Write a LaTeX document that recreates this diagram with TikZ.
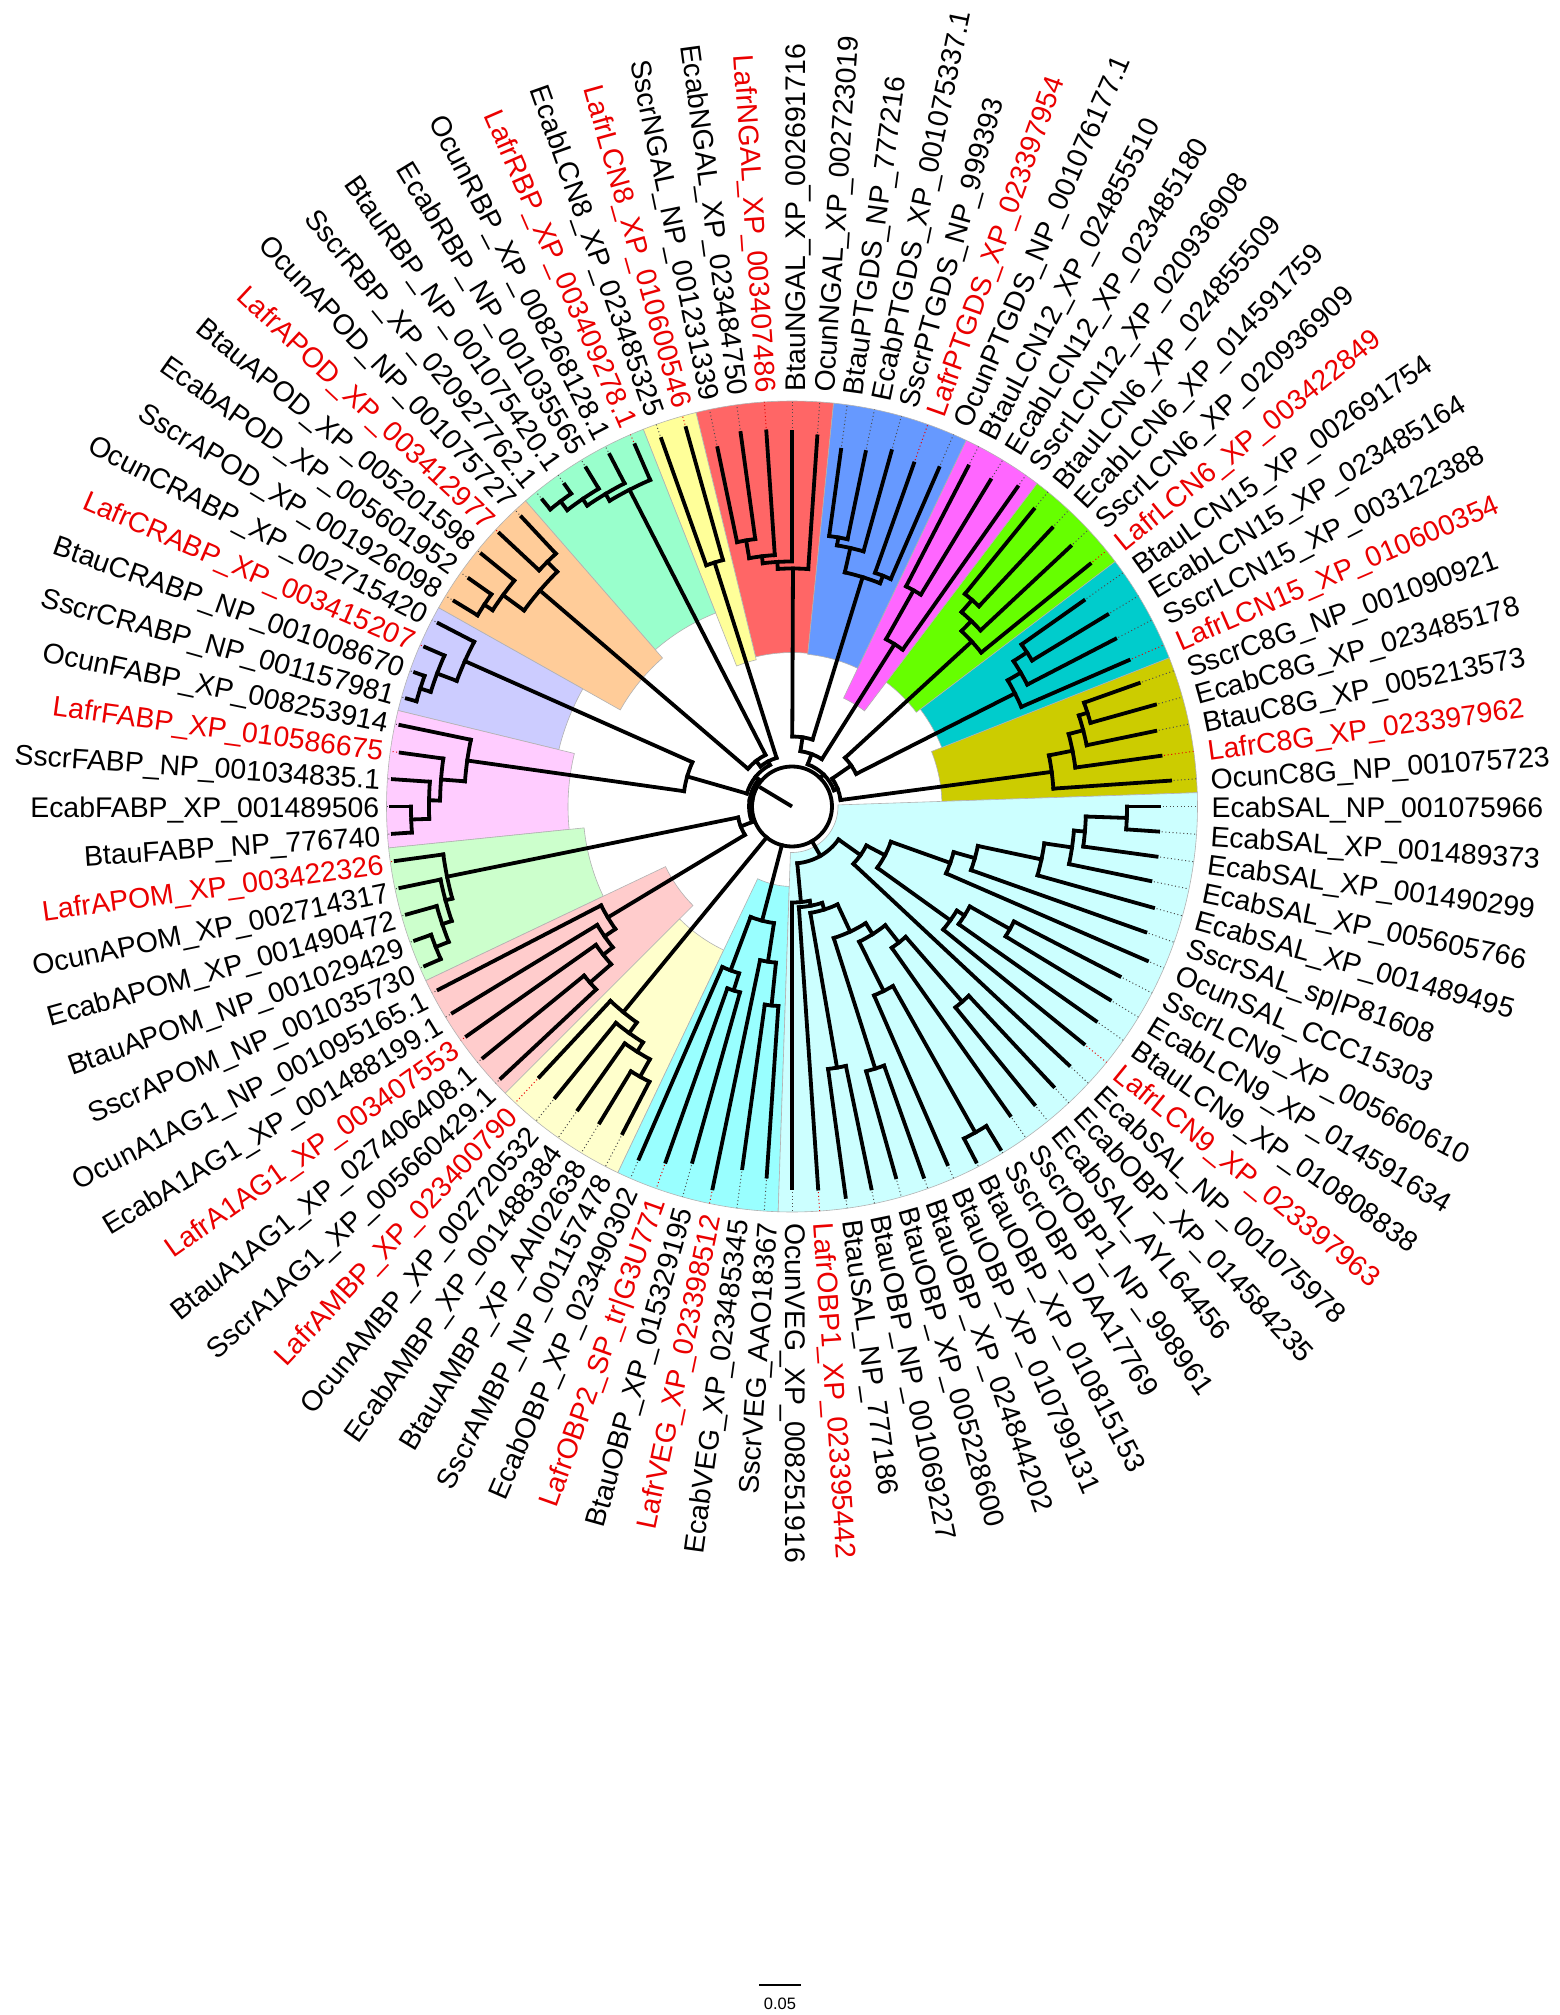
\documentclass[tikz,border=0pt]{standalone}
\usepackage{fontspec}
\setmainfont{Liberation Sans}
\definecolor{labred}{RGB}{235,0,0}
\definecolor{cC8G}{RGB}{204,204,0}
\definecolor{cLf}{RGB}{0,204,204}
\definecolor{cLs}{RGB}{102,255,0}
\definecolor{cLt}{RGB}{255,102,255}
\definecolor{cPT}{RGB}{102,153,255}
\definecolor{cNG}{RGB}{255,102,102}
\definecolor{cLe}{RGB}{255,255,153}
\definecolor{cRBP}{RGB}{153,255,204}
\definecolor{cAPOD}{RGB}{255,204,153}
\definecolor{cCR}{RGB}{204,204,255}
\definecolor{cFA}{RGB}{255,204,255}
\definecolor{cAPOM}{RGB}{204,255,204}
\definecolor{cAa}{RGB}{255,204,204}
\definecolor{cAMBP}{RGB}{255,255,204}
\definecolor{cBC}{RGB}{153,255,255}
\definecolor{cLC}{RGB}{204,255,255}
\tikzset{
  br/.style={line width=3.8pt, line cap=rect, line join=miter},
  dotl/.style={line width=1pt, dash pattern=on 1pt off 2.6pt},
  lbl/.style={font=\fontsize{28.4}{30}\selectfont, inner sep=0pt, text height=20.3pt, text depth=0pt},
  wedge/.style={draw=black!30, line width=0.6pt},
}
\newcommand\TBr[3]{\draw[br] ({-3.913043*(#1)}:#2pt) -- ({-3.913043*(#1)}:#3pt);}
\newcommand\TArc[3]{\draw[br] ({-3.913043*(#1)}:#3pt) arc[start angle={-3.913043*(#1)}, end angle={-3.913043*(#2)}, radius=#3pt];}
\newcommand\TDot[3]{\draw[dotl,#3] ({-3.913043*(#1)}:#2pt) -- ({-3.913043*(#1)}:405.5pt);}
\newcommand\TW[4]{\filldraw[wedge,fill=#4] ({-3.913043*(#1-0.5)}:#3pt) arc[start angle={-3.913043*(#1-0.5)}, end angle={-3.913043*(#2+0.5)}, radius=#3pt] -- ({-3.913043*(#2+0.5)}:405.5pt) arc[start angle={-3.913043*(#2+0.5)}, end angle={-3.913043*(#1-0.5)}, radius=405.5pt] -- cycle;}
\newcommand\labR[3]{\node[lbl,text=#2,anchor=west,rotate={-3.913043*(#1)}] (l#1) at ({-3.913043*(#1)}:416pt) {#3};}
\newcommand\labL[3]{\node[lbl,text=#2,anchor=east,rotate={180-3.913043*(#1)}] (l#1) at ({-3.913043*(#1)}:416pt) {#3};}
\begin{document}
\begin{tikzpicture}[x=1pt,y=1pt]
\useasboundingbox (-792,-1208.5) rectangle (767,806.5);
\fill[white] (-792,-1208.5) rectangle (767,806.5);
% wedges
\TW{87}{91}{150}{cC8G}
\TW{83}{86}{161}{cLf}
\TW{79}{82}{156}{cLs}
\TW{76}{78}{120}{cLt}
\TW{71}{75}{153}{cPT}
\TW{66}{70}{154}{cNG}
\TW{64}{65}{151}{cLe}
\TW{59}{63}{208}{cRBP}
\TW{54}{58}{197}{cAPOD}
\TW{50}{53}{240}{cCR}
\TW{45}{49}{224}{cFA}
\TW{40}{44}{209}{cAPOM}
\TW{35}{39}{140}{cAa}
\TW{30}{34}{159}{cAMBP}
\TW{24}{29}{80}{cBC}
\TW{0}{23}{46}{cLC}
% dotted extensions
\TDot{0}{367}{black!70}\TDot{1}{367}{black!70}\TDot{2}{368}{black!70}\TDot{3}{366}{black!70}
\TDot{4}{375}{black!70}\TDot{5}{375}{black!70}\TDot{6}{387}{black!70}\TDot{7}{369}{black!70}
\TDot{8}{372}{black!70}\TDot{9}{372}{black!70}\TDot{10}{376}{labred}\TDot{11}{379}{black!70}
\TDot{12}{383}{black!70}\TDot{13}{384}{black!70}\TDot{14}{378}{black!70}\TDot{15}{401}{black!70}
\TDot{16}{400}{black!70}\TDot{17}{390}{black!70}\TDot{18}{393}{black!70}\TDot{19}{385}{black!70}
\TDot{20}{390}{black!70}\TDot{21}{394}{black!70}\TDot{22}{383}{labred}\TDot{23}{382}{black!70}
\TDot{24}{371}{black!70}\TDot{25}{365}{black!70}\TDot{26}{390}{labred}\TDot{27}{369}{black!70}
\TDot{28}{377}{labred}\TDot{29}{384}{black!70}\TDot{30}{368}{black!70}\TDot{31}{370}{black!70}
\TDot{32}{371}{black!70}\TDot{33}{375}{black!70}\TDot{34}{370}{labred}\TDot{35}{398}{black!70}
\TDot{36}{398}{black!70}\TDot{37}{398}{labred}\TDot{38}{397}{black!70}\TDot{39}{398}{black!70}
\TDot{40}{400}{black!70}\TDot{41}{400}{black!70}\TDot{42}{400}{black!70}\TDot{43}{400}{black!70}
\TDot{44}{400}{labred}\TDot{45}{400}{black!70}\TDot{46}{401}{black!70}\TDot{47}{400}{black!70}
\TDot{48}{395}{labred}\TDot{49}{400}{black!70}\TDot{50}{400}{black!70}\TDot{51}{400}{black!70}
\TDot{52}{400}{labred}\TDot{53}{398}{black!70}\TDot{54}{395}{black!70}\TDot{55}{395}{black!70}
\TDot{56}{400}{black!70}\TDot{57}{400}{labred}\TDot{58}{396}{black!70}\TDot{59}{395}{black!70}
\TDot{60}{394}{black!70}\TDot{61}{396}{black!70}\TDot{62}{396}{black!70}\TDot{63}{394}{labred}
\TDot{64}{390}{black!70}\TDot{65}{393}{labred}\TDot{66}{366}{black!70}\TDot{67}{377}{black!70}
\TDot{68}{376}{labred}\TDot{69}{375}{black!70}\TDot{70}{371}{black!70}\TDot{71}{360}{black!70}
\TDot{72}{362}{black!70}\TDot{73}{369}{black!70}\TDot{74}{364}{labred}\TDot{75}{369}{black!70}
\TDot{76}{383}{black!70}\TDot{77}{382}{black!70}\TDot{78}{391}{black!70}\TDot{79}{383}{black!70}
\TDot{80}{381}{black!70}\TDot{81}{381}{black!70}\TDot{82}{384}{labred}\TDot{83}{357}{black!70}
\TDot{84}{369}{black!70}\TDot{85}{364}{black!70}\TDot{86}{367}{labred}\TDot{87}{368}{black!70}
\TDot{88}{377}{black!70}\TDot{89}{371}{black!70}\TDot{90}{372}{labred}\TDot{91}{379}{black!70}
% root
\draw[br] (0,0) circle (40pt);
\draw[line width=3.8pt] (0,0) -- (149:38pt);
\TBr{80.42}{40}{45}\TBr{48.27}{40}{43}\TBr{33.06}{40}{266}\TBr{26.75}{40}{118}\TBr{15.34}{40}{57}
% backbone right/top
\TArc{74.24}{86.6}{45}\TBr{86.6}{45}{49}\TBr{74.24}{45}{56}
\TArc{83.125}{90.06}{49}\TBr{90.06}{49}{262}\TBr{83.125}{49}{72}
\TArc{71.22}{77.25}{56}\TBr{71.22}{56}{70}\TBr{77.25}{56}{192}
\TArc{69.06}{73.375}{70}\TBr{69.06}{70}{238}\TBr{73.375}{70}{240}
\TArc{81.125}{85.125}{72}\TBr{81.125}{72}{244}\TBr{85.125}{72}{250}
% backbone left
\TArc{40.56}{55.97}{43}\TBr{55.97}{43}{47}\TBr{40.56}{43}{55}
\TArc{50.09}{61.86}{47}\TBr{61.86}{47}{51}\TBr{50.09}{47}{109}
\TArc{59.22}{64.5}{51}\TBr{64.5}{51}{256}\TBr{59.22}{51}{58}
\TArc{56.375}{62.06}{58}\TBr{56.375}{58}{332}\TBr{62.06}{58}{356}
\TArc{48.06}{52.125}{109}\TBr{48.06}{109}{328}\TBr{52.125}{109}{358}
\TArc{38.06}{43.06}{55}\TBr{38.06}{55}{215}\TBr{43.06}{55}{352}
% C8G
\TArc{89.125}{91}{262}\TBr{89.125}{262}{286}
\TArc{88.25}{90}{286}\TBr{88.25}{286}{301}
\TArc{87.5}{89}{301}\TBr{87.5}{301}{310}
\TArc{87}{88}{310}
% LCN15
\TArc{84.25}{86}{250}\TBr{84.25}{250}{265}
\TArc{83.5}{85}{265}\TBr{83.5}{265}{281}
\TArc{83}{84}{281}
% LCN6
\TArc{80.25}{82}{244}\TBr{80.25}{244}{258}
\TArc{79.5}{81}{258}\TBr{79.5}{258}{274}
\TArc{79}{80}{274}
% LCN12
\TArc{76.5}{78}{192}\TBr{76.5}{192}{248}
\TArc{76}{77}{248}
% PTGDS
\TArc{72.25}{74.5}{240}\TBr{72.25}{240}{265}\TBr{74.5}{240}{248}
\TArc{71.5}{73}{265}\TBr{71.5}{265}{273}
\TArc{71}{72}{273}\TArc{74}{75}{248}
% NGAL
\TArc{68.125}{70}{238}\TBr{68.125}{238}{245}
\TArc{67.25}{69}{245}\TBr{67.25}{245}{252}
\TArc{66.5}{68}{252}\TBr{66.5}{252}{270}
\TArc{66}{67}{270}
% LCN8
\TArc{64}{65}{256}
% RBP
\TArc{61.125}{63}{356}\TBr{61.125}{356}{364}
\TArc{60.25}{62}{364}\TBr{60.25}{364}{372}
\TArc{59.5}{61}{372}\TBr{59.5}{372}{383}
\TArc{59}{60}{383}
% APOD
\TArc{55.25}{57.5}{332}\TBr{55.25}{332}{358}\TBr{57.5}{332}{346}
\TArc{54.5}{56}{358}\TBr{54.5}{358}{368}
\TArc{54}{55}{368}\TArc{57}{58}{346}
% CRABP
\TArc{51.25}{53}{358}\TBr{51.25}{358}{379}
\TArc{50.5}{52}{379}\TBr{50.5}{379}{390}
\TArc{50}{51}{390}
% FABP
\TArc{47.125}{49}{328}\TBr{47.125}{328}{352}
\TArc{46.25}{48}{352}\TBr{46.25}{352}{363}
\TArc{45.5}{47}{363}\TBr{45.5}{363}{381}
\TArc{45}{46}{381}
% APOM
\TArc{42.125}{44}{352}\TBr{42.125}{352}{359}
\TArc{41.25}{43}{359}\TBr{41.25}{359}{369}
\TArc{40.5}{42}{369}\TBr{40.5}{369}{383}
\TArc{40}{41}{383}
% A1AG1
\TArc{37.125}{39}{215}\TBr{37.125}{215}{228}
\TArc{36.25}{38}{228}\TBr{36.25}{228}{240}
\TArc{35.5}{37}{240}\TBr{35.5}{240}{268}
\TArc{35}{36}{268}
% AMBP
\TArc{32.125}{34}{266}\TBr{32.125}{266}{279}
\TArc{31.25}{33}{279}\TBr{31.25}{279}{290}
\TArc{30.5}{32}{290}\TBr{30.5}{290}{310}
\TArc{30}{31}{310}
% bright cyan
\TArc{25.25}{28.25}{118}\TBr{25.25}{118}{157}\TBr{28.25}{118}{175}
\TArc{24.5}{26}{157}\TBr{24.5}{157}{200}
\TArc{24}{25}{200}
\TArc{27.5}{29}{175}\TBr{27.5}{175}{193}
\TArc{27}{28}{193}
% light cyan
\TArc{9.035}{21.64}{57}\TBr{9.035}{57}{84}\TBr{21.64}{57}{96}
\TArc{7.07}{11}{84}\TBr{7.07}{84}{105}
\TArc{5.016}{9.125}{105}\TBr{5.016}{105}{168}\TBr{9.125}{105}{195}
\TArc{4.03}{6}{168}\TBr{4.03}{168}{190}
\TArc{3.0625}{5}{190}\TBr{3.0625}{190}{255}
\TArc{2.125}{4}{255}\TBr{2.125}{255}{283}
\TArc{1.25}{3}{283}\TBr{1.25}{283}{294}
\TArc{0.5}{2}{294}\TBr{0.5}{294}{335}
\TArc{0}{1}{335}
\TArc{8.25}{10}{195}\TBr{8.25}{195}{204}
\TArc{7.5}{9}{204}\TBr{7.5}{204}{250}
\TArc{7}{8}{250}
\TArc{20.28}{23}{96}\TBr{20.28}{96}{101}
\TArc{18.56}{22}{101}\TBr{18.56}{101}{108}
\TArc{16.625}{20.5}{108}\TBr{16.625}{108}{138}\TBr{20.5}{108}{265}
\TArc{20}{21}{265}
\TArc{14.75}{18.5}{138}\TBr{14.75}{138}{151}\TBr{18.5}{138}{275}
\TArc{18}{19}{275}
\TArc{13.25}{16.25}{151}\TBr{13.25}{151}{173}\TBr{16.25}{151}{206}
\TArc{12.5}{14}{173}\TBr{12.5}{173}{259}
\TArc{12}{13}{259}
\TArc{15.5}{17}{206}\TBr{15.5}{206}{374}
\TArc{15}{16}{374}
% leaf branches
\TBr{0}{335}{367}\TBr{1}{335}{367}\TBr{2}{294}{368}\TBr{3}{283}{366}
\TBr{4}{255}{375}\TBr{5}{190}{375}\TBr{6}{168}{387}\TBr{7}{250}{369}
\TBr{8}{250}{372}\TBr{9}{204}{372}\TBr{10}{195}{376}\TBr{11}{84}{379}
\TBr{12}{259}{383}\TBr{13}{259}{384}\TBr{14}{173}{378}\TBr{15}{374}{401}
\TBr{16}{374}{400}\TBr{17}{206}{390}\TBr{18}{275}{393}\TBr{19}{275}{385}
\TBr{20}{265}{390}\TBr{21}{265}{394}\TBr{22}{101}{383}\TBr{23}{96}{382}
\TBr{24}{200}{371}\TBr{25}{200}{365}\TBr{26}{157}{390}\TBr{27}{193}{369}
\TBr{28}{193}{377}\TBr{29}{175}{384}\TBr{30}{310}{368}\TBr{31}{310}{370}
\TBr{32}{290}{371}\TBr{33}{279}{375}\TBr{34}{266}{370}\TBr{35}{268}{398}
\TBr{36}{268}{398}\TBr{37}{240}{398}\TBr{38}{228}{397}\TBr{39}{215}{398}
\TBr{40}{383}{400}\TBr{41}{383}{400}\TBr{42}{369}{400}\TBr{43}{359}{400}
\TBr{44}{352}{400}\TBr{45}{381}{400}\TBr{46}{381}{401}\TBr{47}{363}{400}
\TBr{48}{352}{395}\TBr{49}{328}{400}\TBr{50}{390}{400}\TBr{51}{390}{400}
\TBr{52}{379}{400}\TBr{53}{358}{398}\TBr{54}{368}{395}\TBr{55}{368}{395}
\TBr{56}{358}{400}\TBr{57}{346}{400}\TBr{58}{346}{396}\TBr{59}{383}{395}
\TBr{60}{383}{394}\TBr{61}{372}{396}\TBr{62}{364}{396}\TBr{63}{356}{394}
\TBr{64}{256}{390}\TBr{65}{256}{393}\TBr{66}{270}{366}\TBr{67}{270}{377}
\TBr{68}{252}{376}\TBr{69}{245}{375}\TBr{70}{238}{371}\TBr{71}{273}{360}
\TBr{72}{273}{362}\TBr{73}{265}{369}\TBr{74}{248}{364}\TBr{75}{248}{369}
\TBr{76}{248}{383}\TBr{77}{248}{382}\TBr{78}{192}{391}\TBr{79}{274}{383}
\TBr{80}{274}{381}\TBr{81}{258}{381}\TBr{82}{244}{384}\TBr{83}{281}{357}
\TBr{84}{281}{369}\TBr{85}{265}{364}\TBr{86}{250}{367}\TBr{87}{310}{368}
\TBr{88}{310}{377}\TBr{89}{301}{371}\TBr{90}{286}{372}\TBr{91}{262}{379}
% labels
\begin{scope}[shift={(3.5pt,-1pt)}]
\labR{0}{black}{EcabSAL\_NP\_001075966}
\labR{1}{black}{EcabSAL\_XP\_001489373}
\labR{2}{black}{EcabSAL\_XP\_001490299}
\labR{3}{black}{EcabSAL\_XP\_005605766}
\labR{4}{black}{EcabSAL\_XP\_001489495}
\labR{5}{black}{SscrSAL\_sp|P81608}
\labR{6}{black}{OcunSAL\_CCC15303}
\labR{7}{black}{SscrLCN9\_XP\_005660610}
\labR{8}{black}{EcabLCN9\_XP\_014591634}
\labR{9}{black}{BtauLCN9\_XP\_010808838}
\labR{10}{labred}{LafrLCN9\_XP\_023397963}
\labR{11}{black}{EcabSAL\_NP\_001075978}
\labR{12}{black}{EcabOBP\_XP\_014584235}
\labR{13}{black}{EcabSAL\_AYL64456}
\labR{14}{black}{SscrOBP1\_NP\_998961}
\labR{15}{black}{SscrOBP\_DAA17769}
\labR{16}{black}{BtauOBP\_XP\_010815153}
\labR{17}{black}{BtauOBP\_XP\_010799131}
\labR{18}{black}{BtauOBP\_XP\_024844202}
\labR{19}{black}{BtauOBP\_XP\_005228600}
\labR{20}{black}{BtauOBP\_NP\_001069227}
\labR{21}{black}{BtauSAL\_NP\_777186}
\labR{22}{labred}{LafrOBP1\_XP\_023395442}
\labR{23}{black}{OcunVEG\_XP\_008251916}
\labL{24}{black}{SscrVEG\_AAO18367}
\labL{25}{black}{EcabVEG\_XP\_023485345}
\labL{26}{labred}{LafrVEG\_XP\_023398512}
\labL{27}{black}{BtauOBP\_XP\_015329195}
\labL{28}{labred}{LafrOBP2\_SP\_tr|G3U771}
\labL{29}{black}{EcabOBP\_XP\_023490302}
\labL{30}{black}{SscrAMBP\_NP\_001157478}
\labL{31}{black}{BtauAMBP\_XP\_AAI02638}
\labL{32}{black}{EcabAMBP\_XP\_001488384}
\labL{33}{black}{OcunAMBP\_XP\_002720532}
\labL{34}{labred}{LafrAMBP\_XP\_023400790}
\labL{35}{black}{SscrA1AG1\_XP\_005660429.1}
\labL{36}{black}{BtauA1AG1\_XP\_027406408.1}
\labL{37}{labred}{LafrA1AG1\_XP\_003407553}
\labL{38}{black}{EcabA1AG1\_XP\_001488199.1}
\labL{39}{black}{OcunA1AG1\_NP\_001095165.1}
\labL{40}{black}{SscrAPOM\_NP\_001035730}
\labL{41}{black}{BtauAPOM\_NP\_001029429}
\labL{42}{black}{EcabAPOM\_XP\_001490472}
\labL{43}{black}{OcunAPOM\_XP\_002714317}
\labL{44}{labred}{LafrAPOM\_XP\_003422326}
\labL{45}{black}{BtauFABP\_NP\_776740}
\labL{46}{black}{EcabFABP\_XP\_001489506}
\labL{47}{black}{SscrFABP\_NP\_001034835.1}
\labL{48}{labred}{LafrFABP\_XP\_010586675}
\labL{49}{black}{OcunFABP\_XP\_008253914}
\labL{50}{black}{SscrCRABP\_NP\_001157981}
\labL{51}{black}{BtauCRABP\_NP\_001008670}
\labL{52}{labred}{LafrCRABP\_XP\_003415207}
\labL{53}{black}{OcunCRABP\_XP\_002715420}
\labL{54}{black}{SscrAPOD\_XP\_001926098}
\labL{55}{black}{EcabAPOD\_XP\_005601952}
\labL{56}{black}{BtauAPOD\_XP\_005201598}
\labL{57}{labred}{LafrAPOD\_XP\_003412977}
\labL{58}{black}{OcunAPOD\_NP\_001075727}
\labL{59}{black}{SscrRBP\_XP\_020927762.1}
\labL{60}{black}{BtauRBP\_NP\_001075420.1}
\labL{61}{black}{EcabRBP\_NP\_001035565}
\labL{62}{black}{OcunRBP\_XP\_008268128.1}
\labL{63}{labred}{LafrRBP\_XP\_003409278.1}
\labL{64}{black}{EcabLCN8\_XP\_023485325}
\labL{65}{labred}{LafrLCN8\_XP\_010600546}
\labL{66}{black}{SscrNGAL\_NP\_001231339}
\labL{67}{black}{EcabNGAL\_XP\_023484750}
\labL{68}{labred}{LafrNGAL\_XP\_003407486}
\labR{69}{black}{BtauNGAL\_XP\_002691716}
\labR{70}{black}{OcunNGAL\_XP\_002723019}
\labR{71}{black}{BtauPTGDS\_NP\_777216}
\labR{72}{black}{EcabPTGDS\_XP\_001075337.1}
\labR{73}{black}{SscrPTGDS\_NP\_999393}
\labR{74}{labred}{LafrPTGDS\_XP\_023397954}
\labR{75}{black}{OcunPTGDS\_NP\_001076177.1}
\labR{76}{black}{BtauLCN12\_XP\_024855510}
\labR{77}{black}{EcabLCN12\_XP\_023485180}
\labR{78}{black}{SscrLCN12\_XP\_020936908}
\labR{79}{black}{BtauLCN6\_XP\_024855509}
\labR{80}{black}{EcabLCN6\_XP\_014591759}
\labR{81}{black}{SscrLCN6\_XP\_020936909}
\labR{82}{labred}{LafrLCN6\_XP\_003422849}
\labR{83}{black}{BtauLCN15\_XP\_002691754}
\labR{84}{black}{EcabLCN15\_XP\_023485164}
\labR{85}{black}{SscrLCN15\_XP\_003122388}
\labR{86}{labred}{LafrLCN15\_XP\_010600354}
\labR{87}{black}{SscrC8G\_NP\_001090921}
\labR{88}{black}{EcabC8G\_XP\_023485178}
\labR{89}{black}{BtauC8G\_XP\_005213573}
\labR{90}{labred}{LafrC8G\_XP\_023397962}
\labR{91}{black}{OcunC8G\_NP\_001075723}
\end{scope}
% scale bar
\coordinate (sbA) at (-32.7,-1178.5);
\coordinate (sbB) at (8.7,-1178.5);
\draw[line width=1.5pt] (sbA) -- (sbB);
\node[font=\fontsize{16.5}{18}\selectfont, inner sep=0pt] (sbt) at (-12,-1197) {0.05};
\end{tikzpicture}
\end{document}
